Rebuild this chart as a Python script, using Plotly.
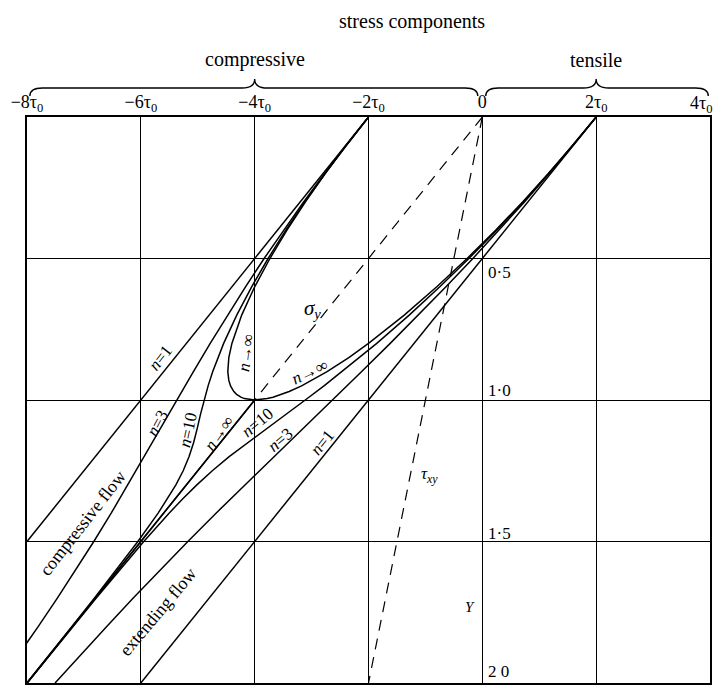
import plotly.graph_objects as go

# ---------------- data ----------------
x_ticks = [-8, -6, -4, -2, 0, 2, 4]
x_tick_text = ["−8τ<sub>0</sub>", "−6τ<sub>0</sub>", "−4τ<sub>0</sub>", "−2τ<sub>0</sub>",
               "0", "2τ<sub>0</sub>", ""]
edge_tick_text = "4τ<sub>0</sub>"
y_ticks = [0, 0.5, 1.0, 1.5, 2.0]
y_tick_text = ["0·5", "1·0", "1·5", "2 0"]

# n = 1 (straight lines)
depth_n1_comp = [0, 1.5]
comp_n1 = [-2.0, -8.0]
depth_n1_ext = [0, 2.0]
ext_n1 = [2.0, -6.0]

# n = 3
depth_n3 = [0, 0.1, 0.2, 0.3, 0.4, 0.5, 0.6, 0.7, 0.8, 0.9, 1.0,
            1.1, 1.2, 1.3, 1.4, 1.5, 1.6, 1.7, 1.8, 1.9, 2.0]
comp_n3 = [-2.0, -2.393, -2.773, -3.14, -3.493, -3.834, -4.161, -4.477, -4.781, -5.076, -5.365,
           -5.65, -5.935, -6.224, -6.521, -6.826, -7.141, -7.467, -7.801, -8.143, -8.493]
ext_n3 = [2.0, 1.593, 1.173, 0.74, 0.293, -0.166, -0.639, -1.123, -1.619, -2.124, -2.635,
          -3.15, -3.665, -4.176, -4.679, -5.174, -5.659, -6.133, -6.599, -7.057, -7.507]

# n = 10
depth_n10 = [0, 0.1, 0.2, 0.3, 0.4, 0.5, 0.6, 0.7, 0.8, 0.9, 0.95, 1.0, 1.05, 1.1, 1.15,
             1.2, 1.25, 1.3, 1.35, 1.4, 1.5, 1.6, 1.7, 1.8, 1.9, 2.0]
comp_n10 = [-2.0, -2.391, -2.764, -3.118, -3.452, -3.764, -4.053, -4.315, -4.545, -4.738,
            -4.818, -4.889, -4.951, -5.009, -5.072, -5.152, -5.256, -5.384, -5.533, -5.696,
            -6.052, -6.429, -6.817, -7.21, -7.606, -8.004]
ext_n10 = [2.0, 1.591, 1.164, 0.718, 0.252, -0.236, -0.747, -1.285, -1.855, -2.462,
           -2.782, -3.111, -3.449, -3.791, -4.128, -4.448, -4.744, -5.016, -5.267, -5.504,
           -5.948, -6.371, -6.783, -7.19, -7.594, -7.996]

# n -> infinity
depth_inf = [0, 0.1, 0.2, 0.3, 0.4, 0.5, 0.6, 0.7, 0.8, 0.85, 0.9, 0.93, 0.95, 0.97,
             0.98, 0.99, 0.995, 0.999, 1.0, 1.5, 2.0]
comp_inf = [-2.0, -2.39, -2.76, -3.108, -3.433, -3.732, -4.0, -4.228, -4.4, -4.454, -4.472,
            -4.455, -4.424, -4.366, -4.318, -4.242, -4.18, -4.085, -4.0, -6.0, -8.0]
ext_inf = [2.0, 1.59, 1.16, 0.708, 0.233, -0.268, -0.8, -1.372, -2.0, -2.346, -2.728,
           -2.985, -3.176, -3.394, -3.522, -3.678, -3.78, -3.907, -4.0, -6.0, -8.0]

# dashed components
depth_sigma_y = [0, 1.0]
sigma_y = [0, -4.0]
depth_tau = [0, 2.0]
tau_xy = [0, -2.0]

# ---------------- figure ----------------
fig = go.Figure()
solid = dict(color="black", width=1.5)
for xs, ys in [(comp_n1, depth_n1_comp), (ext_n1, depth_n1_ext),
               (comp_n3, depth_n3), (ext_n3, depth_n3),
               (comp_n10, depth_n10), (ext_n10, depth_n10),
               (comp_inf, depth_inf), (ext_inf, depth_inf)]:
    fig.add_trace(go.Scatter(x=xs, y=ys, mode="lines", line=solid,
                             hoverinfo="skip", showlegend=False))
dashed = dict(color="black", width=1.2, dash="11px,8px")
fig.add_trace(go.Scatter(x=sigma_y, y=depth_sigma_y, mode="lines", line=dashed,
                         hoverinfo="skip", showlegend=False))
fig.add_trace(go.Scatter(x=tau_xy, y=depth_tau, mode="lines", line=dashed,
                         hoverinfo="skip", showlegend=False))

SERIF = "Liberation Serif"
ann = []

def lab(x, y, text, angle=0, size=15, xanchor="center", yref="y", xshift=0):
    ann.append(dict(x=x, y=y, xref="x", yref=yref, text=text, showarrow=False,
                    textangle=angle, xanchor=xanchor, yanchor="middle", xshift=xshift,
                    font=dict(family=SERIF, size=size, color="black")))

# curve labels
lab(-2.98, 0.68, "<i>σ<sub>y</sub></i>", 0, 21)
lab(-0.93, 1.265, "<i>τ<sub>xy</sub></i>", 0, 17)
lab(-0.21, 1.73, "<i>Y</i>", 0, 15)
lab(-4.16, 0.834, "<i>n</i>→∞", -82, 17)
lab(-5.65, 0.85, "<i>n</i>=1", -52, 17)
lab(-5.70, 1.08, "<i>n</i>=3", -62, 17)
lab(-5.18, 1.106, "<i>n</i>=10", -78, 17)
lab(-4.63, 1.117, "<i>n</i>→∞", -55, 17)
lab(-3.95, 1.08, "<i>n</i>=10", -40, 17)
lab(-3.54, 1.14, "<i>n</i>=3", -40, 17)
lab(-2.81, 1.15, "<i>n</i>=1", -51, 17)
lab(-3.02, 0.90, "<i>n</i>→∞", -25, 17)
lab(-7.02, 1.435, "compressive flow", -52, 18)
lab(-5.70, 1.75, "extending flow", -50, 18)

# depth labels next to x = 0 line
for yv, txt in zip([0.548, 0.965, 1.47, 1.961], y_tick_text):
    lab(0.07, yv, txt, 0, 17, xanchor="left")

# header texts (paper y)
def py(pix):
    return (683 - pix) / 566.0

lab(-1.23, py(22), "stress components", 0, 20, yref="paper")
lab(-4.0, py(60), "compressive", 0, 20, yref="paper")
lab(2.0, py(60), "tensile", 0, 20, yref="paper")
# last top tick label, kept inside the page edge
lab(4.0, py(104), edge_tick_text, 0, 18, xanchor="right", yref="paper", xshift=5)

# braces
def brace(x0, x1, tip):
    yh, ye, yt = py(88), py(96), py(79)
    d = 0.22
    return (f"M {x0},{ye} Q {x0},{yh} {x0+d},{yh} L {tip-d},{yh} "
            f"Q {tip},{yh} {tip},{yt} Q {tip},{yh} {tip+d},{yh} "
            f"L {x1-d},{yh} Q {x1},{yh} {x1},{ye}")

shapes = [dict(type="path", xref="x", yref="paper", path=brace(-7.95, -0.08, -4.0),
               line=dict(color="black", width=1.4)),
          dict(type="path", xref="x", yref="paper", path=brace(0.06, 3.97, 2.0),
               line=dict(color="black", width=1.4))]

fig.update_layout(
    width=716, height=685,
    margin=dict(l=27, r=6, t=117, b=2),
    paper_bgcolor="white", plot_bgcolor="white",
    annotations=ann, shapes=shapes,
    xaxis=dict(range=[-8, 4], side="top", tickvals=x_ticks, ticktext=x_tick_text,
               ticks="", showgrid=True, gridcolor="black", gridwidth=1.2,
               zeroline=False, showline=True, mirror=True, linecolor="black",
               linewidth=1.6, automargin=False,
               tickfont=dict(family=SERIF, size=18, color="black")),
    yaxis=dict(range=[2, 0], tickvals=y_ticks, showticklabels=False, ticks="",
               showgrid=True, gridcolor="black", gridwidth=1.2, zeroline=False,
               showline=True, mirror=True, linecolor="black", linewidth=1.6,
               automargin=False),
)

fig.write_html("out.html")
